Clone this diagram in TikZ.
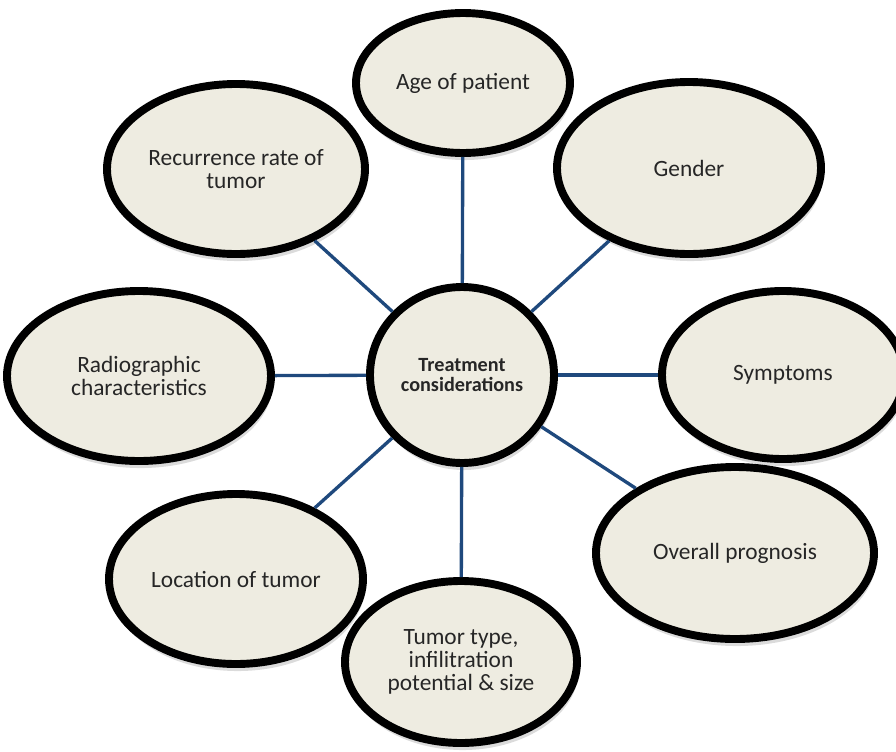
\documentclass[tikz,border=0pt]{standalone}
\usepackage{fontspec}
\setmainfont{Carlito}
\usetikzlibrary{shapes.geometric, shadows}
\definecolor{oval}{HTML}{EEECE1}
\definecolor{spoke}{HTML}{1F497D}

\begin{document}
\begin{tikzpicture}[x=0.02cm, y=-0.02cm,
    bub/.style 2 args={ellipse, draw=black, line width=4.5pt, fill=oval,
      inner sep=0pt, minimum width=#1*0.02cm, minimum height=#2*0.02cm,
      align=center, text=black!85, font=\fontsize{13.3}{13.3}\selectfont,
      drop shadow={shadow xshift=1pt, shadow yshift=-4pt, opacity=0.2, fill=black!70}},
    link/.style={draw=spoke, line width=1.9pt}]
    \useasboundingbox (0,0) rectangle (896,751);
    % hub and the eight considerations round it
    \node [bub={184}{176}, font=\bfseries\fontsize{11.5}{11.5}\selectfont] (hub) at (462,375) {Treatment\\considerations};
    \node [bub={214}{140}] (age) at (463,83) {Age of patient};
    \node [bub={264}{172}] (gender) at (689,168) {Gender};
    \node [bub={258}{170}] (recur) at (236,169) {Recurrence rate of\\tumor};
    \node [bub={264}{170}] (radio) at (139,376) {Radiographic\\characteristics};
    \node [bub={242}{168}] (symp) at (783,375) {Symptoms};
    \node [bub={278}{172}] (progn) at (735,553) {Overall prognosis};
    \node [bub={254}{170}] (loc) at (236,579) {Location of tumor};
    \node [bub={232}{162}] (tumor) at (461,662) {Tumor type,\\infilitration\\potential \& size};
    \foreach \n in {age,gender,symp,progn,tumor,loc,radio,recur}
    \draw [link] (hub) -- (\n);
\end{tikzpicture}
\end{document}
